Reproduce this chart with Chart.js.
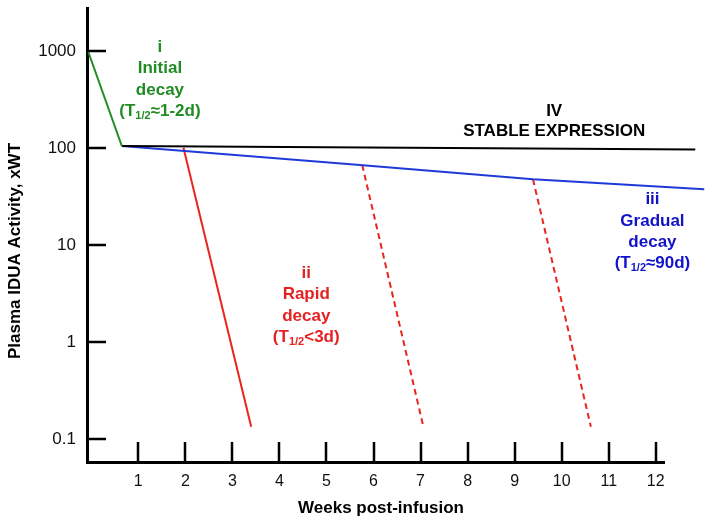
<!DOCTYPE html>
<html>
<head>
<meta charset="utf-8">
<script src="https://cdn.jsdelivr.net/npm/chart.js@4.4.1/dist/chart.umd.min.js"></script>
<style>
  html, body { margin: 0; background: #fff; }
</style>
</head>
<body>
<canvas id="chart" width="712" height="525"></canvas>
<script>
// axis ticks
const weekTicks = [1, 2, 3, 4, 5, 6, 7, 8, 9, 10, 11, 12]
const valueTicks = [0.1, 1, 10, 100, 1000]

// phases (x = weeks, y = xWT)
const initialX = [-0.07, 0.65]
const initialY = [1000, 105]
const stableX = [0.65, 12.84]
const stableY = [105, 97]
const gradualX = [0.65, 3.59, 5.71, 9.39, 13.03]
const gradualY = [105, 81, 67, 47.7, 37.6]
const rapidX = [1.96, 3.40]
const rapidY = [101, 0.135]
const lateAX = [5.76, 7.06]
const lateAY = [67, 0.135]
const lateBX = [9.39, 10.62]
const lateBY = [47.7, 0.135]

const GREEN = '#218c23'
const RED = '#e8251f'
const BLUE = '#1f3ad8'
const FONT = "'Liberation Sans', Arial, Helvetica, sans-serif"

const notes = [
  { x: 1.46, y: 1092, color: GREEN, lines: ['i', 'Initial', 'decay', '(T_{1/2}≈1-2d)'] },
  { x: 9.84, y: 237, color: '#000', lines: ['IV', 'STABLE EXPRESSION'], gap: 20 },
  { x: 11.93, y: 29.5, color: '#1212c8', lines: ['iii', 'Gradual', 'decay', '(T_{1/2}≈90d)'] },
  { x: 4.57, y: 5.13, color: '#e42222', lines: ['ii', 'Rapid', 'decay', '(T_{1/2}<3d)'] },
]

function series(xs, ys, color, dash) {
  return {
    data: xs.map((v, i) => ({ x: v, y: ys[i] })),
    borderColor: color,
    borderWidth: 2,
    borderDash: dash || [],
    pointRadius: 0,
    tension: 0,
    clip: false,
  }
}

function drawLine(ctx, cx, cy, text) {
  const parts = text.split(/_\{(.*?)\}/)
  const big = `bold 17px ${FONT}`
  const small = `bold 11px ${FONT}`
  let total = 0
  parts.forEach((p, i) => { ctx.font = i % 2 ? small : big; total += ctx.measureText(p).width })
  let px = cx - total / 2
  parts.forEach((p, i) => {
    ctx.font = i % 2 ? small : big
    ctx.fillText(p, px, i % 2 ? cy + 5 : cy)
    px += ctx.measureText(p).width
  })
}

function noPad(s) {
  s.paddingTop = 0
  s.paddingBottom = 0
  s.paddingLeft = 0
  s.paddingRight = 0
}

const decor = {
  id: 'decor',
  afterDraw(chart) {
    const { ctx, chartArea: a, scales: { x, y } } = chart
    ctx.save()
    ctx.strokeStyle = '#000'
    ctx.lineWidth = 2.5
    ctx.beginPath()
    weekTicks.forEach(w => {
      const px = Math.round(x.getPixelForValue(w))
      ctx.moveTo(px, a.bottom)
      ctx.lineTo(px, a.bottom - 20)
    })
    valueTicks.forEach(v => {
      const py = Math.round(y.getPixelForValue(v))
      ctx.moveTo(a.left, py)
      ctx.lineTo(a.left + 19, py)
    })
    ctx.stroke()

    // axis titles
    ctx.fillStyle = '#000'
    ctx.textAlign = 'center'
    ctx.textBaseline = 'middle'
    ctx.font = `bold 17px ${FONT}`
    ctx.fillText('Weeks post-infusion', 381, 508)
    ctx.translate(15, 251)
    ctx.rotate(-Math.PI / 2)
    ctx.fillText('Plasma IDUA Activity, xWT', 0, 0)
    ctx.setTransform(1, 0, 0, 1, 0, 0)
    ctx.scale(chart.currentDevicePixelRatio, chart.currentDevicePixelRatio)

    ctx.textAlign = 'left'
    notes.forEach(n => {
      const cx = x.getPixelForValue(n.x)
      const cy = y.getPixelForValue(n.y)
      ctx.fillStyle = n.color
      n.lines.forEach((t, i) => drawLine(ctx, cx, cy + i * (n.gap || 21.3), t))
    })
    ctx.restore()
  },
}

new Chart(document.getElementById('chart'), {
  type: 'line',
  data: {
    datasets: [
      series(initialX, initialY, GREEN),
      series(stableX, stableY, '#000'),
      series(gradualX, gradualY, BLUE),
      series(rapidX, rapidY, RED),
      series(lateAX, lateAY, RED, [6, 4]),
      series(lateBX, lateBY, RED, [6, 4]),
    ],
  },
  options: {
    responsive: false,
    animation: false,
    layout: { padding: { top: 8, right: 48, left: 0, bottom: 0 } },
    plugins: { legend: { display: false }, tooltip: { enabled: false } },
    scales: {
      x: {
        type: 'linear',
        min: -0.0906,
        max: 12.175,
        afterBuildTicks: s => { s.ticks = weekTicks.map(v => ({ value: v })) },
        afterFit: s => { s.height = 63; noPad(s) },
        grid: { display: false, drawTicks: false },
        border: { display: true, width: 3, color: '#000' },
        ticks: { autoSkip: false, maxRotation: 0, padding: 10, color: '#111', font: { family: FONT, size: 16 } },
      },
      y: {
        type: 'logarithmic',
        min: 0.0584,
        max: 2774,
        afterBuildTicks: s => { s.ticks = valueTicks.map(v => ({ value: v })) },
        afterFit: s => { s.width = 87; noPad(s) },
        grid: { display: false, drawTicks: false },
        border: { display: true, width: 3, color: '#000' },
        ticks: { padding: 11, color: '#111', font: { family: FONT, size: 17 }, callback: v => String(v) },
      },
    },
  },
  plugins: [decor],
})
</script>
</body>
</html>
